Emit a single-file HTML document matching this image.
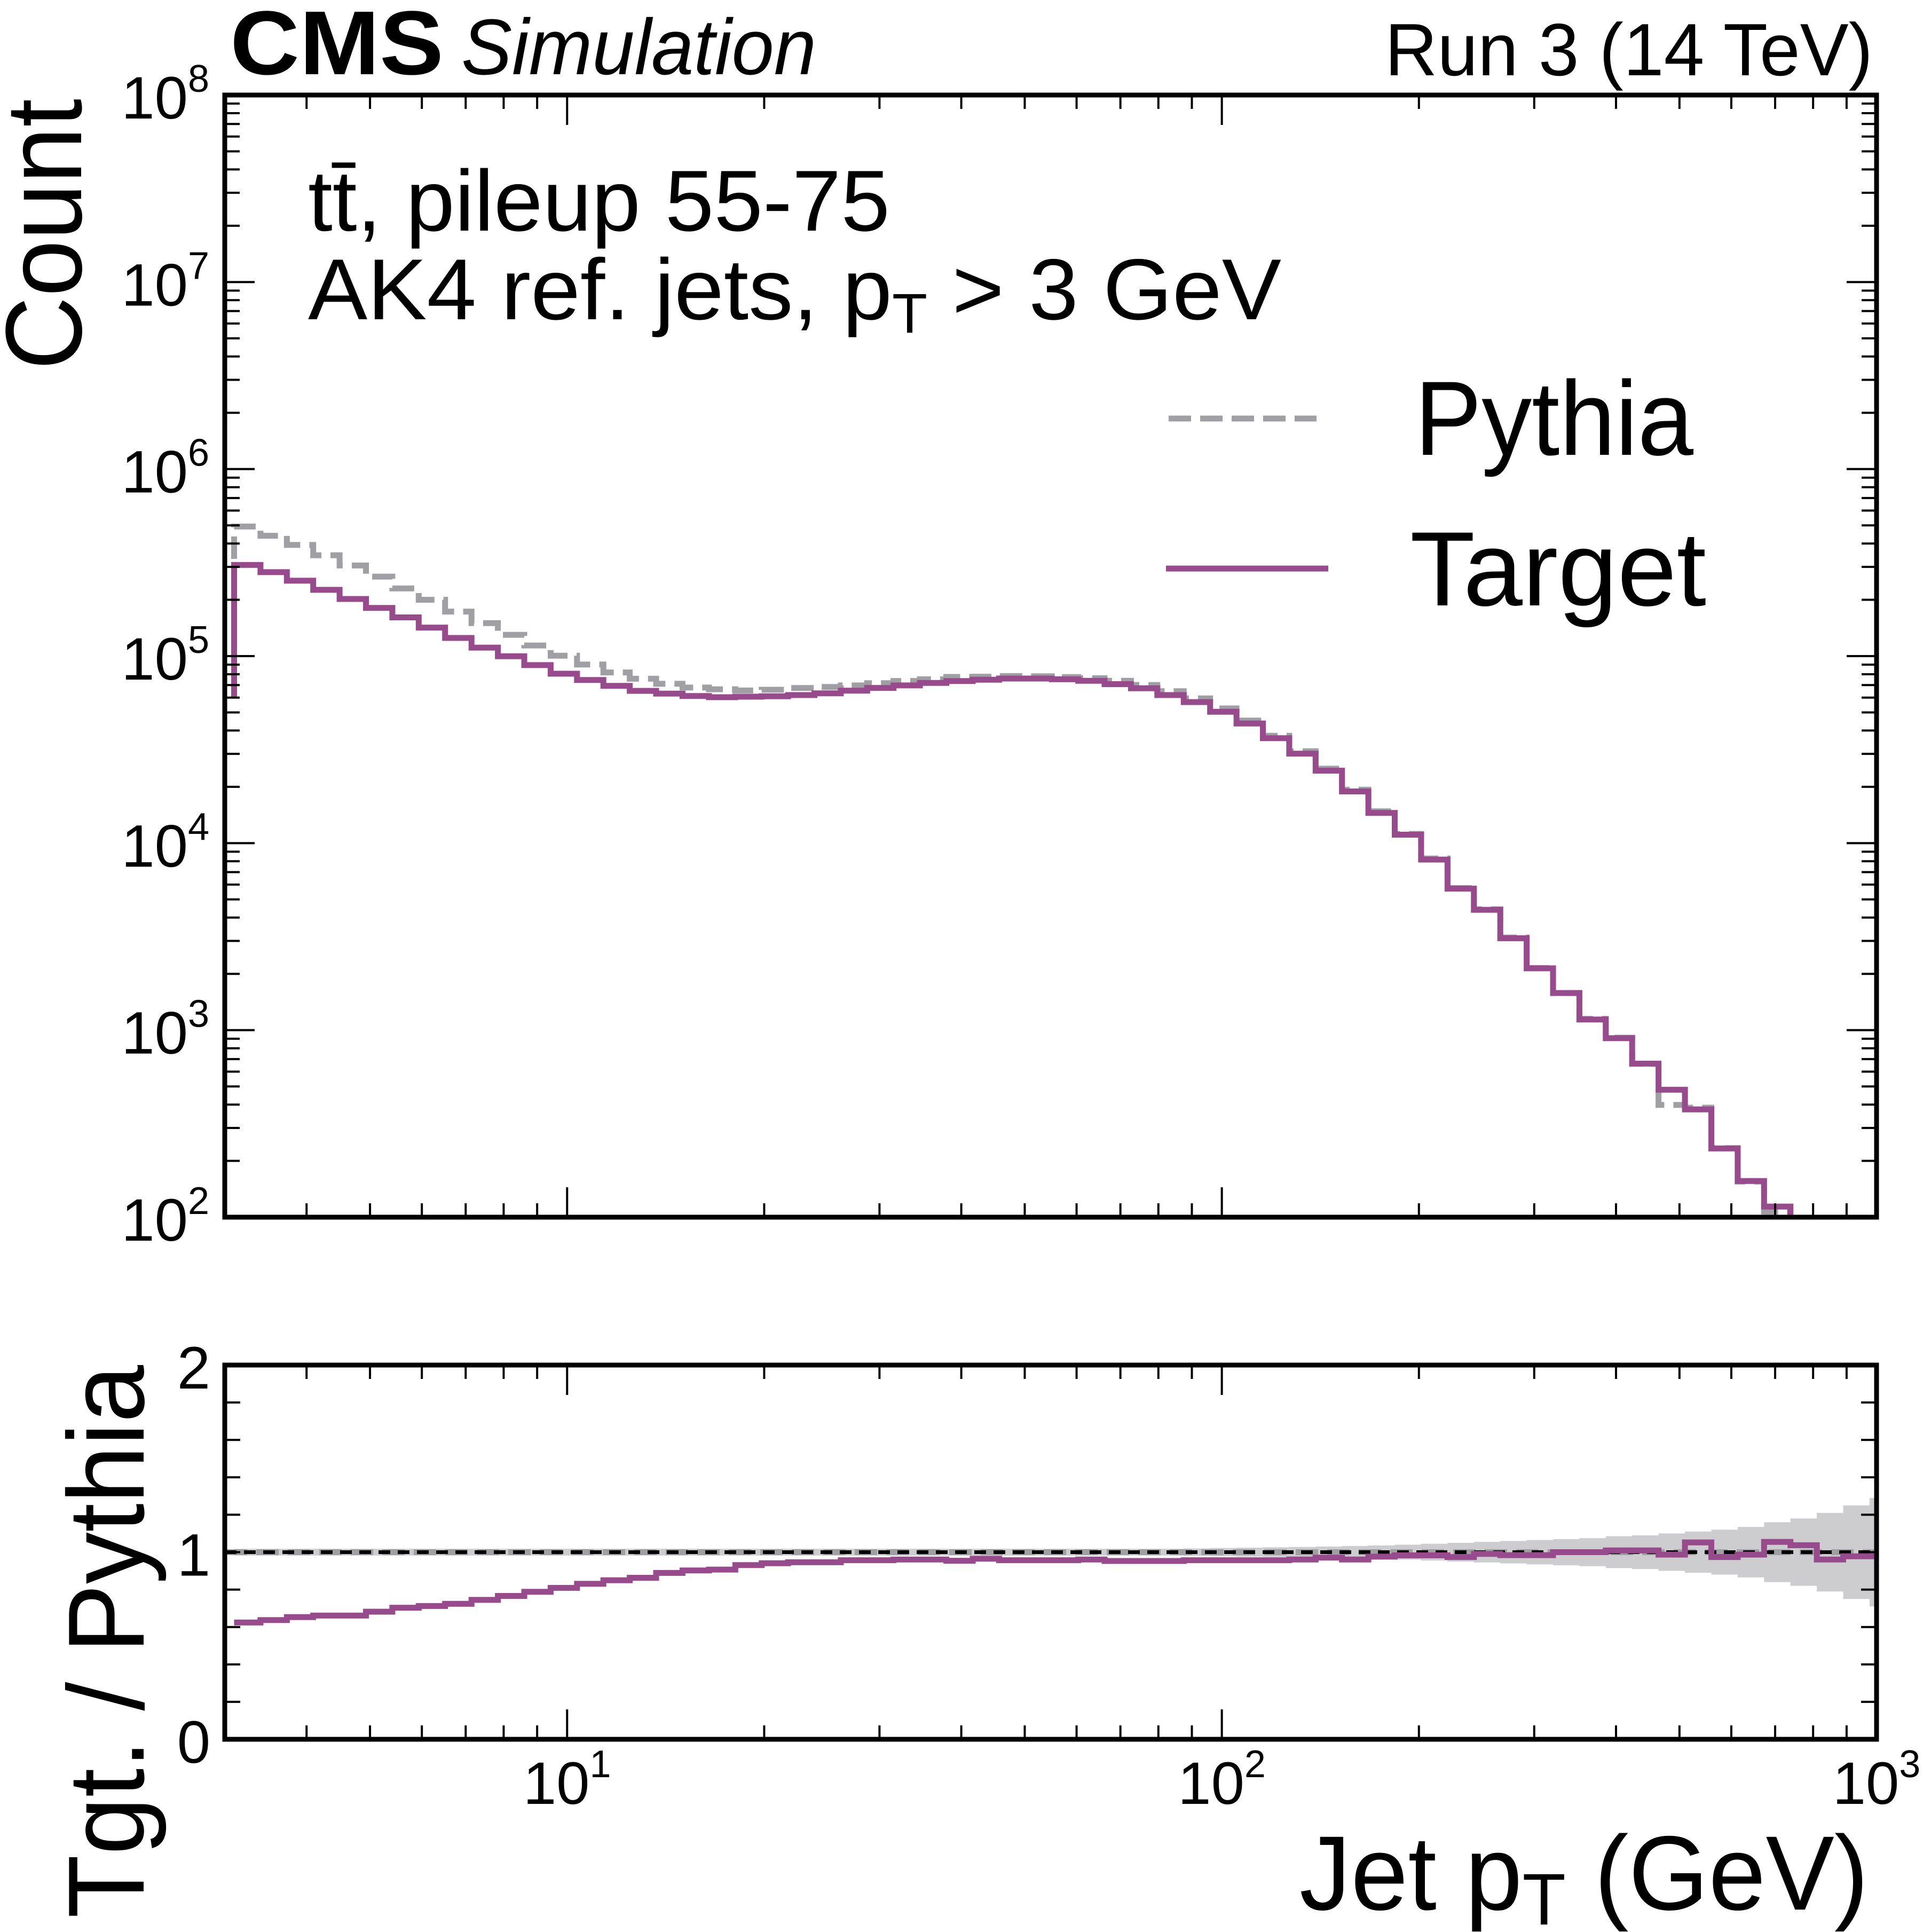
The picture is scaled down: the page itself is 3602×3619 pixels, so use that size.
<!DOCTYPE html>
<html><head><meta charset="utf-8"><style>
html,body{margin:0;padding:0;background:#fff;}
svg{display:block;}
text{font-family:"Liberation Sans",sans-serif;fill:#000;}
</style></head><body>
<svg id="chart" xmlns="http://www.w3.org/2000/svg" width="3602" height="3619" viewBox="0 0 3602 3619">
<rect x="0" y="0" width="3602" height="3619" fill="#fff"/>
<defs>
<clipPath id="clipMain"><rect x="421" y="178" width="3094" height="2102"/></clipPath>
<clipPath id="clipRatio"><rect x="421" y="2557" width="3094" height="701"/></clipPath>
</defs>
<g id="mainMarks" clip-path="url(#clipMain)"></g>
<g id="ratioMarks" clip-path="url(#clipRatio)"></g>
<g id="axes"></g>

<text x="431" y="139" font-size="170" font-weight="bold" textLength="400" lengthAdjust="spacingAndGlyphs">CMS</text>
<text x="864" y="139" font-size="148" font-style="italic" textLength="665" lengthAdjust="spacingAndGlyphs">Simulation</text>
<text x="3508" y="141" font-size="139" text-anchor="end" textLength="914" lengthAdjust="spacingAndGlyphs">Run 3 (14 TeV)</text>

<text x="577" y="432" font-size="162" textLength="1090" lengthAdjust="spacingAndGlyphs">tt̄, pileup 55-75</text>
<text x="577" y="598" font-size="162" textLength="1823" lengthAdjust="spacingAndGlyphs">AK4 ref. jets, p<tspan font-size="105" dy="25">T</tspan><tspan dy="-25"> &gt; 3 GeV</tspan></text>

<line x1="2189" y1="784" x2="2466" y2="784" stroke="#a0a0a4" stroke-width="11" stroke-dasharray="42,17"/>
<text x="2650" y="852" font-size="198" textLength="522" lengthAdjust="spacingAndGlyphs">Pythia</text>
<line x1="2184" y1="1065" x2="2488" y2="1065" stroke="#984b8c" stroke-width="11"/>
<text x="2641" y="1134" font-size="198" textLength="555" lengthAdjust="spacingAndGlyphs">Target</text>

<text transform="translate(152,185) rotate(-90)" font-size="203" text-anchor="end" textLength="508" lengthAdjust="spacingAndGlyphs">Count</text>
<text transform="translate(269,2557) rotate(-90)" font-size="203" text-anchor="end" textLength="1036" lengthAdjust="spacingAndGlyphs">Tgt. / Pythia</text>
<text x="3500" y="3577" font-size="198" text-anchor="end" textLength="1066" lengthAdjust="spacingAndGlyphs">Jet p<tspan font-size="137" dy="28">T</tspan><tspan dy="-28"> (GeV)</tspan></text>
</svg>
<script>
// ---- data ----
const binFirstEdge = 3.10;
const binLogWidth = 0.04029;
const pythiaCounts = [493000,440000,393000,346000,305000,266000,230000,200000,173000,150000,130000,114000,100500,90200,81800,75700,71100,67900,66500,65500,66100,67500,68400,69700,71600,73600,75200,77400,77600,78200,78000,77300,76200,73800,70100,64900,59400,52500,45200,37500,31000,25000,19300,14800,11200,8280,5750,4430,3130,2150,1580,1150,912,661,398,385,234,155,107];
const targetCounts = [307000,281000,253000,226000,202000,181000,161000,142000,125000,111000,99800,89500,80500,74500,69300,65200,63000,61200,60300,60700,61000,61900,63200,65300,67600,69700,71900,73500,74800,75900,75900,75200,73800,70800,67300,61900,56800,50400,43600,36400,30100,24400,18900,14500,11100,8170,5710,4400,3100,2140,1580,1140,906,662,480,377,233,156,114];
const targetLeftDrop = 60000;
const pythiaLeftDrop = 331000;
const ratioValues = [0.624,0.637,0.653,0.661,0.661,0.682,0.703,0.712,0.724,0.745,0.766,0.788,0.809,0.831,0.850,0.863,0.889,0.902,0.907,0.931,0.941,0.946,0.946,0.957,0.957,0.961,0.961,0.954,0.965,0.957,0.957,0.957,0.961,0.953,0.953,0.953,0.957,0.957,0.957,0.957,0.961,0.971,0.961,0.976,0.983,0.983,0.974,0.991,0.984,0.984,1.0,1.0,1.009,1.009,0.987,1.052,0.974,0.987,1.055,1.037,0.961,0.978,0.978];
const ratioErr = [0.018,0.018,0.018,0.018,0.018,0.018,0.018,0.018,0.018,0.018,0.018,0.018,0.018,0.018,0.018,0.018,0.018,0.018,0.018,0.018,0.018,0.018,0.018,0.018,0.018,0.018,0.018,0.018,0.018,0.018,0.018,0.018,0.018,0.018,0.018,0.018,0.02,0.022,0.024,0.026,0.028,0.03,0.033,0.036,0.04,0.045,0.05,0.055,0.06,0.065,0.07,0.075,0.085,0.09,0.1,0.11,0.12,0.135,0.16,0.18,0.21,0.25,0.29];
const yTickExps = [2,3,4,5,6,7,8];
const xTickExps = [1,2,3];
const ratioTickLabels = ["0","1","2"];

// ---- axes ----
const NS = 'http://www.w3.org/2000/svg';
const L = 421, R = 3515, mT = 178, mB = 2280, rT = 2557, rB = 3258;
const xmin = 3, xmax = 1000;
function xS(v){ return L + (Math.log10(v)-Math.log10(xmin))/(Math.log10(xmax)-Math.log10(xmin))*(R-L); }
function yS(v){ return mB - (Math.log10(v)-2)/6*(mB-mT); }
function rS(v){ return rB - v/2*(rB-rT); }
function edge(k){ return binFirstEdge*Math.pow(10, binLogWidth*k); }
function mk(tag, attrs, parent){ const e=document.createElementNS(NS,tag); for(const k in attrs) e.setAttribute(k,attrs[k]); parent.appendChild(e); return e; }

const main = document.getElementById('mainMarks');
const ratio = document.getElementById('ratioMarks');
const axes = document.getElementById('axes');

function stepPath(vals, sc, drop, bottomVal){
  let d = 'M'+xS(edge(0)).toFixed(1)+','+sc(drop).toFixed(1);
  for(let i=0;i<vals.length;i++){
    const y=sc(vals[i]).toFixed(1);
    d += ' L'+xS(edge(i)).toFixed(1)+','+y+' L'+xS(edge(i+1)).toFixed(1)+','+y;
  }
  d += ' L'+xS(edge(vals.length)).toFixed(1)+','+(bottomVal);
  return d;
}

let p = mk('path',{d:stepPath(pythiaCounts,yS,pythiaLeftDrop,mB+50),fill:'none',stroke:'#a0a0a4','stroke-width':11,'stroke-dasharray':'42,17'},main);


p = mk('path',{d:stepPath(targetCounts,yS,targetLeftDrop,mB+50),fill:'none',stroke:'#984b8c','stroke-width':11},main);



for(let i=0;i<ratioErr.length;i++){
  const x0=xS(edge(i)), x1=xS(edge(i+1));
  const r = mk('rect',{x:x0.toFixed(1),y:rS(1+ratioErr[i]).toFixed(1),width:(x1-x0+0.8).toFixed(1),height:(rS(1-ratioErr[i])-rS(1+ratioErr[i])).toFixed(1),fill:'#cdcdcf'},ratio);
  
  
}
let ln = mk('line',{x1:L,y1:rS(1),x2:R,y2:rS(1),stroke:'#a0a0a4','stroke-width':11,'stroke-dasharray':'42,17'},ratio);


ln = mk('line',{x1:L,y1:rS(1),x2:R,y2:rS(1),stroke:'#000','stroke-width':7,'stroke-dasharray':'22,14'},ratio);


let dr = 'M'+xS(edge(0)).toFixed(1)+','+rS(ratioValues[0]).toFixed(1);
for(let i=0;i<ratioValues.length;i++){
  const y=rS(ratioValues[i]).toFixed(1);
  dr += ' L'+xS(edge(i)).toFixed(1)+','+y+' L'+xS(edge(i+1)).toFixed(1)+','+y;
}
p = mk('path',{d:dr,fill:'none',stroke:'#984b8c','stroke-width':11},ratio);



for(const [t,b,nm] of [[mT,mB,'main-frame'],[rT,rB,'ratio-frame']]){
  const f = mk('rect',{x:L,y:t,width:R-L,height:b-t,fill:'none',stroke:'#000','stroke-width':9},axes);
  
  
}
function tick(x1,y1,x2,y2,w){ const t=mk('line',{x1,y1,x2,y2,stroke:'#000','stroke-width':w},axes);
  
   }
for(const [t,b] of [[mT,mB],[rT,rB]]){
  for(let e=0;e<=3;e++){
    for(let m=1;m<10;m++){
      const v=m*Math.pow(10,e); if(v<xmin||v>xmax) continue;
      const x=xS(v); const len = m===1?56:26;
      if(x<=L+2||x>=R-2) continue;
      tick(x,b,x,b-len,4); tick(x,t,x,t+len,4);
    }
  }
}
for(let e=2;e<=8;e++){
  for(let m=1;m<10;m++){
    const v=m*Math.pow(10,e); if(v>1e8) continue;
    const y=yS(v); const len=m===1?56:28;
    tick(L,y,L+len,y,4); tick(R,y,R-len,y,4);
  }
}
for(let k=1;k<10;k++){ const y=rS(k*0.2); tick(L,y,L+29,y,4); tick(R,y,R-29,y,4); }

for(const e of yTickExps){
  const t=mk('text',{x:392,y:(yS(Math.pow(10,e))+44).toFixed(1),'font-size':112,'text-anchor':'end'},axes);
  
  
  t.textContent='10';
  const s=mk('tspan',{dy:-50,'font-size':72},t); s.textContent=String(e);
}
for(const e of xTickExps){
  const t=mk('text',{x:(xS(Math.pow(10,e))).toFixed(1),y:3379,'font-size':112,'text-anchor':'middle'},axes);
  
  
  t.textContent='10';
  const s=mk('tspan',{dy:-50,'font-size':72},t); s.textContent=String(e);
}
ratioTickLabels.forEach((lab,i)=>{
  const t=mk('text',{x:394,y:(rS(i)+44).toFixed(1),'font-size':112,'text-anchor':'end'},axes);
  
  
  t.textContent=lab;
});
</script>
</body></html>
